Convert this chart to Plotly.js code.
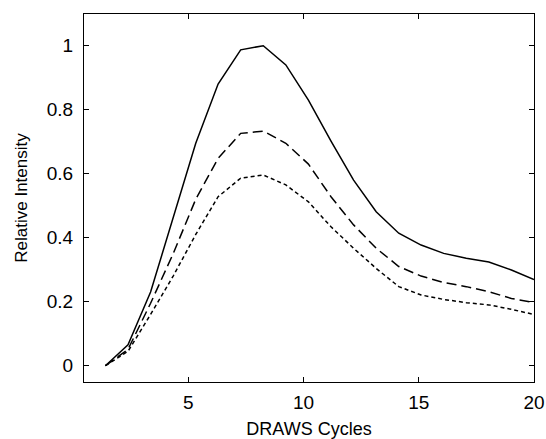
<!DOCTYPE html>
<html>
<head>
<meta charset="utf-8">
<script src="https://cdn.plot.ly/plotly-3.0.1.min.js"></script>
<style>html,body{margin:0;padding:0;background:#fff;}#chart{width:546px;height:439px;}</style>
</head>
<body>
<div id="chart"></div>
<script>
var cycles = [1.4, 2.38, 3.36, 4.34, 5.32, 6.29, 7.27, 8.25, 9.23, 10.21, 11.19, 12.17, 13.15, 14.13, 15.1, 16.08, 17.06, 18.04, 19.02, 20];
var solid = [0.0, 0.065, 0.23, 0.46, 0.695, 0.88, 0.987, 1.0, 0.94, 0.83, 0.702, 0.58, 0.481, 0.414, 0.377, 0.351, 0.336, 0.324, 0.299, 0.269];
var longDash = [0.0, 0.051, 0.195, 0.35, 0.52, 0.648, 0.726, 0.733, 0.695, 0.63, 0.528, 0.44, 0.367, 0.31, 0.28, 0.26, 0.247, 0.231, 0.21, 0.197];
var shortDash = [0.0, 0.045, 0.16, 0.28, 0.41, 0.528, 0.586, 0.596, 0.565, 0.512, 0.434, 0.367, 0.304, 0.247, 0.221, 0.207, 0.197, 0.19, 0.176, 0.16];
var yTicks = [0, 0.2, 0.4, 0.6, 0.8, 1];
var yTickText = ["0", "0.2", "0.4", "0.6", "0.8", "1"];
var xTicks = [5, 10, 15, 20];
var xTickText = ["5", "10", "15", "20"];

var font = "Liberation Sans, Arial, Helvetica, sans-serif";
function tr(y, dash) {
  return {x: cycles, y: y, type: "scatter", mode: "lines",
    line: {color: "#000", width: 1.5, dash: dash}, showlegend: false, hoverinfo: "skip"};
}
var data = [tr(solid, "solid"), tr(longDash, "10px,5px"), tr(shortDash, "4px,3px")];
var axisCommon = {showgrid: false, zeroline: false, showline: true, linecolor: "#000", linewidth: 1,
  mirror: "ticks", ticks: "inside", ticklen: 5, tickcolor: "#000", tickwidth: 1,
  tickfont: {family: font, size: 19, color: "#000"}};
var layout = {
  width: 546, height: 439,
  margin: {l: 84, r: 12, t: 14, b: 57},
  paper_bgcolor: "#fff", plot_bgcolor: "#fff",
  font: {family: font, color: "#000"},
  xaxis: Object.assign({}, axisCommon, {range: [0.47, 20], tickvals: xTicks, ticktext: xTickText,
    ticklabelstandoff: 3,
    title: {text: "DRAWS Cycles", font: {family: font, size: 18, color: "#000"}, standoff: 12}}),
  yaxis: Object.assign({}, axisCommon, {range: [-0.051, 1.099], tickvals: yTicks, ticktext: yTickText,
    ticklabelstandoff: 6,
    title: {text: "Relative Intensity", font: {family: font, size: 17, color: "#000"}, standoff: 14}})
};
Plotly.newPlot("chart", data, layout, {staticPlot: true, displayModeBar: false});
</script>
</body>
</html>
